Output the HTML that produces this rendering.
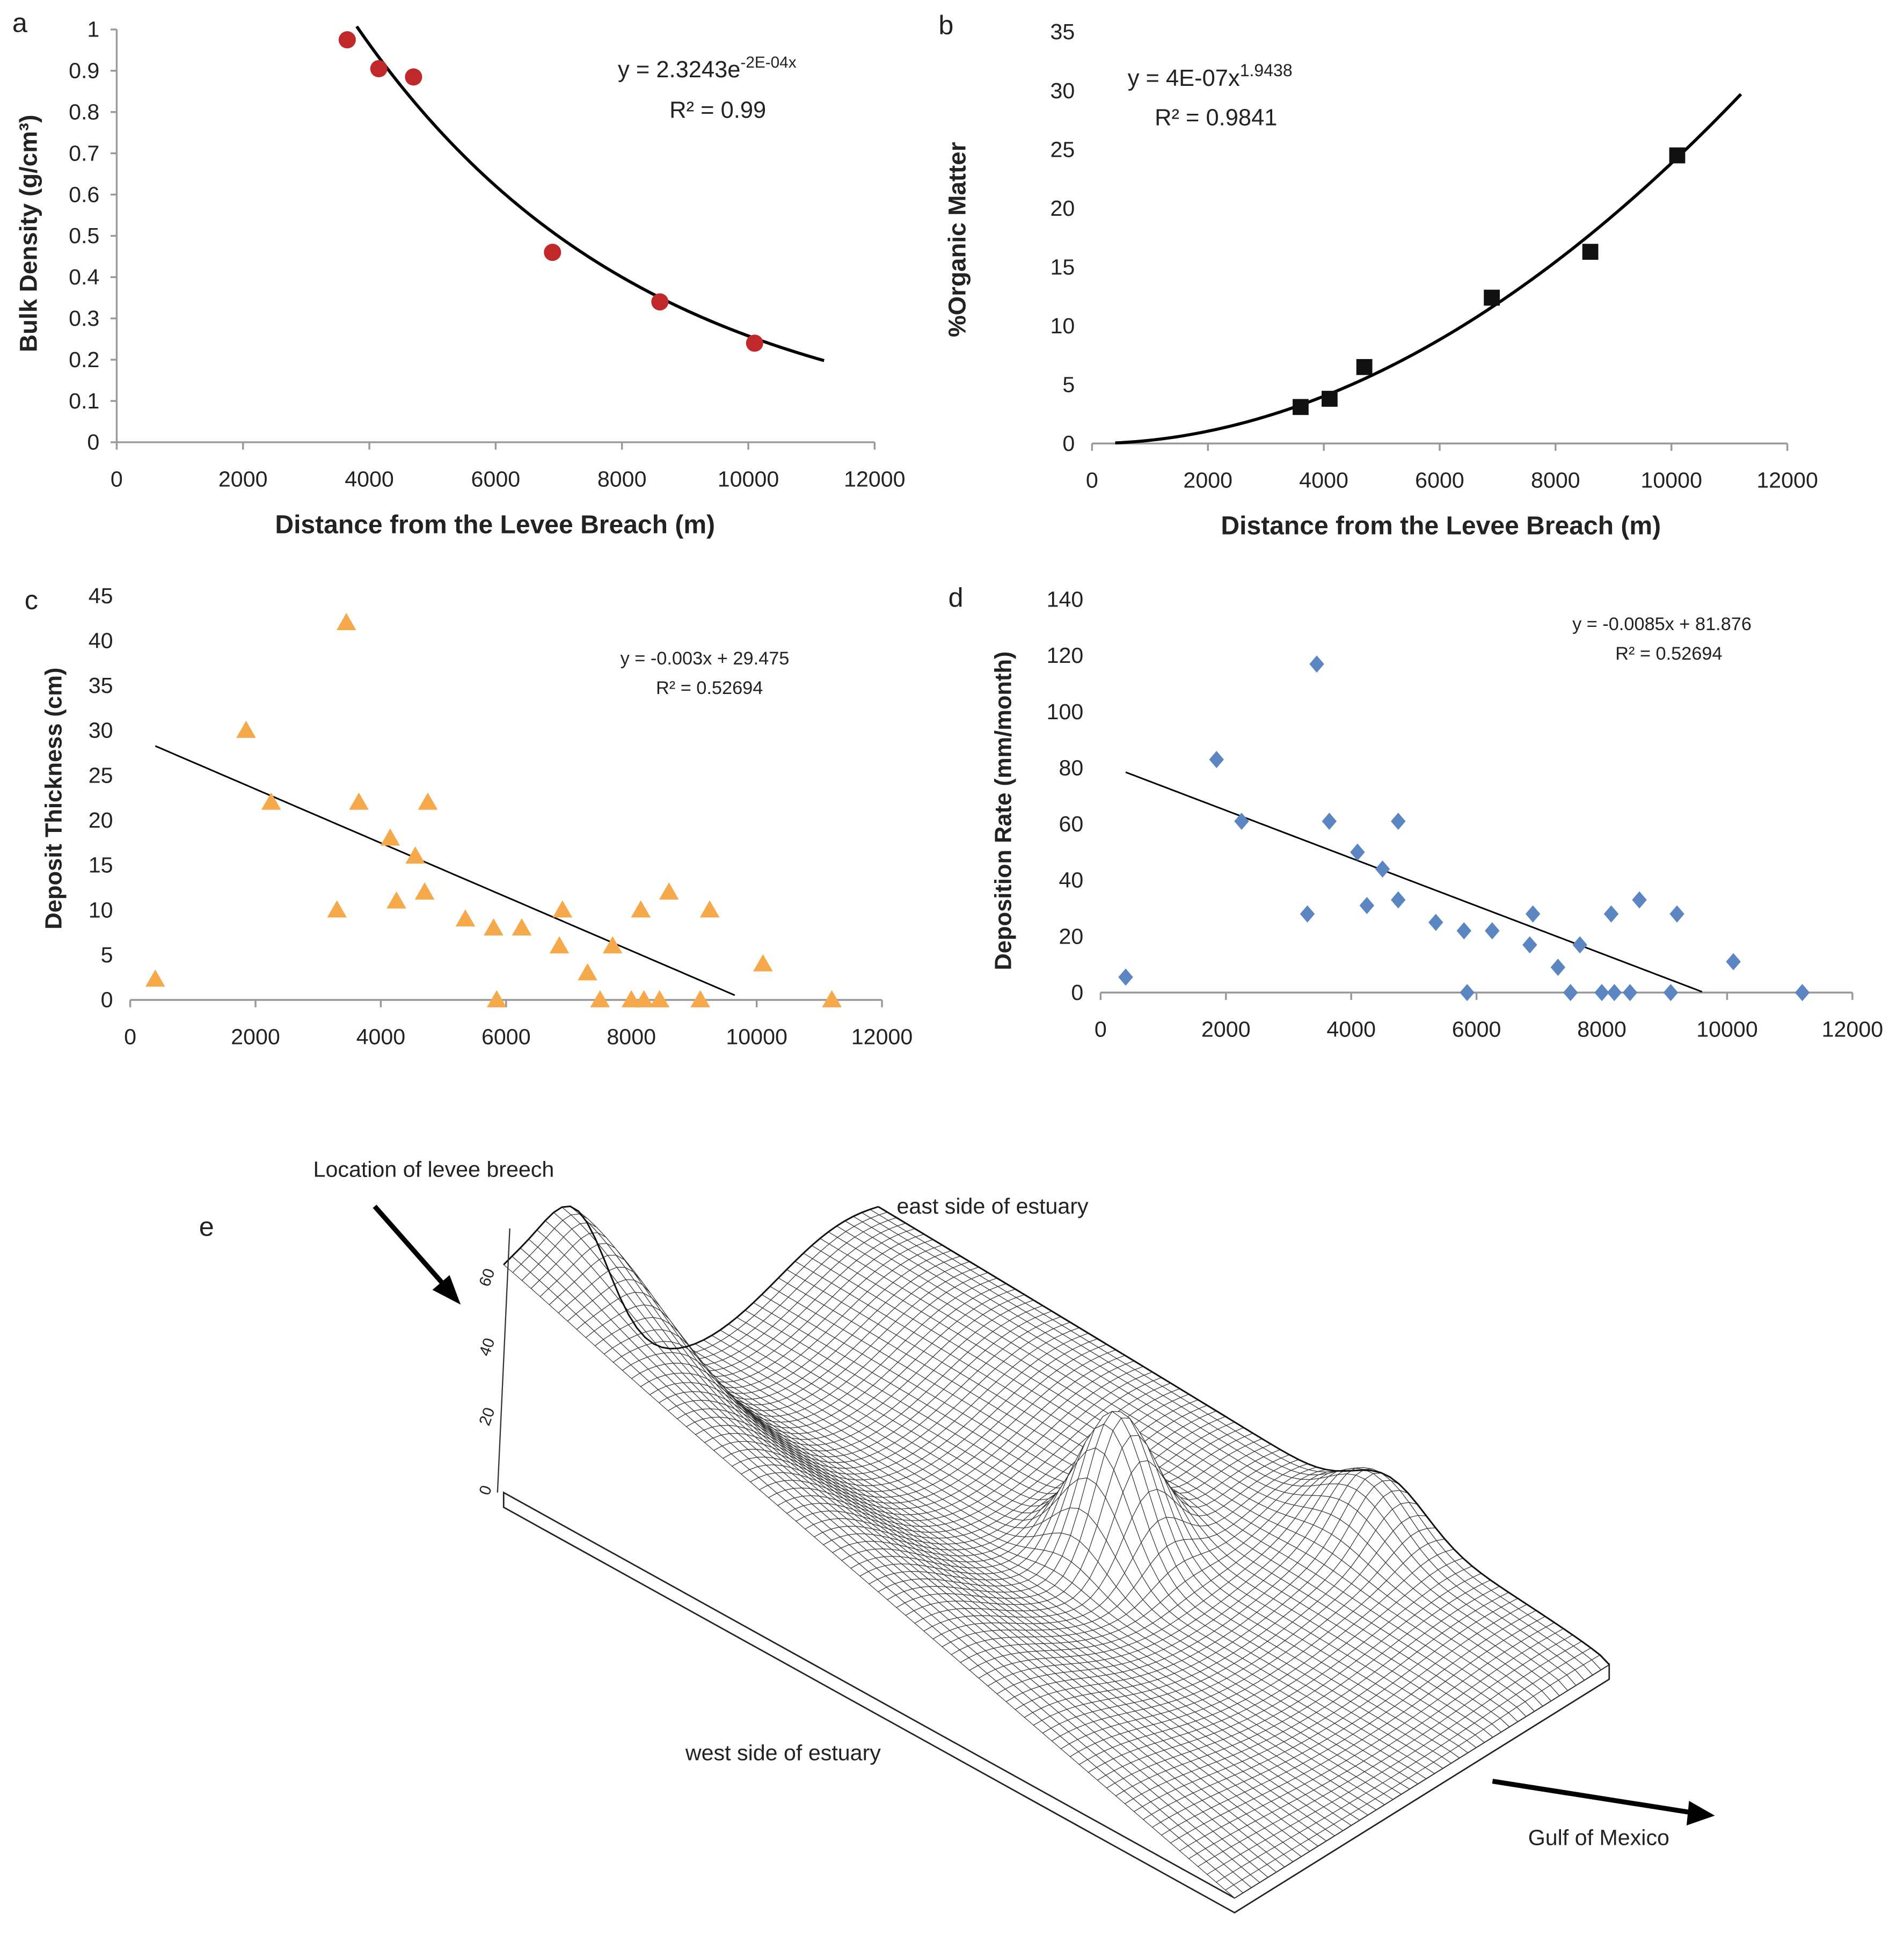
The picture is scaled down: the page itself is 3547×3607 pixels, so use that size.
<!DOCTYPE html>
<html><head><meta charset="utf-8"><style>
html,body{margin:0;padding:0;background:#fff}
svg{display:block}
text{font-family:"Liberation Sans",sans-serif;fill:#222}
</style></head><body>
<svg id="fig" width="3547" height="3607" viewBox="0 0 1550 1576" preserveAspectRatio="none" xmlns="http://www.w3.org/2000/svg"></svg>
<script>
// ---- data ----
const aDist = [3650, 4150, 4700, 6900, 8600, 10100];
const aDensity = [0.975, 0.905, 0.885, 0.46, 0.34, 0.24];
const bDist = [3600, 4100, 4700, 6900, 8600, 10100];
const bOrganic = [3.1, 3.8, 6.5, 12.4, 16.3, 24.5];
const cDist = [400,1850,2250,3300,3450,3650,4150,4250,4550,4700,4750,5350,5800,5850,6250,6850,6900,7300,7500,7700,8000,8150,8200,8450,8600,9100,9250,10100,11200];
const cThick = [2.3,30,22,10,42,22,18,11,16,12,22,9,8,0,8,6,10,3,0,6,0,10,0,0,12,0,10,4,0];
const dDist = [400,1850,2250,3300,3450,3650,4100,4250,4500,4750,4750,5350,5800,5850,6250,6850,6900,7300,7500,7650,8000,8150,8200,8450,8600,9100,9200,10100,11200];
const dRate = [5.5,83,61,28,117,61,50,31,44,33,61,25,22,0,22,17,28,9,0,17,0,28,0,0,33,0,28,11,0];
const xTicks = [0,2000,4000,6000,8000,10000,12000];
const aTicks = [0,0.1,0.2,0.3,0.4,0.5,0.6,0.7,0.8,0.9,1];
const bTicks = [0,5,10,15,20,25,30,35];
const cTicks = [0,5,10,15,20,25,30,35,40,45];
const dTicks = [0,20,40,60,80,100,120,140];

const NS="http://www.w3.org/2000/svg";
const svg=document.getElementById('fig');
function mk(tag,attrs,parent){const e=document.createElementNS(NS,tag);for(const k in attrs)e.setAttribute(k,attrs[k]);(parent||svg).appendChild(e);return e;}
function txt(s,attrs,parent){const e=mk('text',attrs,parent);e.textContent=s;return e;}

function panel(o){
  const g=mk('g',{});
  
  
  const X=v=>o.x0+(v-0)/(12000)*(o.x1-o.x0);
  const Y=v=>o.y0-(v/o.ymax)*(o.y0-o.y1);
  if(o.yaxis){const ya=mk('line',{x1:o.x0,y1:o.y0,x2:o.x0,y2:o.y1,stroke:'#999','stroke-width':1.5},g);
    
    o.yt.forEach(t=>mk('line',{x1:o.x0-5,x2:o.x0,y1:Y(t),y2:Y(t),stroke:'#999','stroke-width':1.5},g));}
  const xa=mk('line',{x1:o.x0,y1:o.y0,x2:o.x1,y2:o.y0,stroke:'#999','stroke-width':1.5},g);
  
  xTicks.forEach(t=>{mk('line',{x1:X(t),x2:X(t),y1:o.y0,y2:o.y0+6,stroke:'#999','stroke-width':1.5},g);
    const l=txt(String(t),{x:X(t),y:o.y0+36,'font-size':18,'text-anchor':'middle'},g);
    });
  o.yt.forEach(t=>{const l=txt(String(t),{x:o.x0-14,y:Y(t)+6,'font-size':18,'text-anchor':'end'},g);
    });
  let pts=[];for(let v=o.fx0;v<=o.fx1;v+=50){pts.push(X(v)+','+Y(o.fit(v)));}
  const fl=mk('polyline',{points:pts.join(' '),fill:'none',stroke:'#000','stroke-width':o.fw},g);
  
  o.xs.forEach((v,i)=>{const cx=X(v),cy=Y(o.ys[i]);let m;
    if(o.mark==='circle')m=mk('circle',{cx,cy,r:7,fill:'#c0282a'},g);
    else if(o.mark==='square')m=mk('rect',{x:cx-6.5,y:cy-6.5,width:13,height:13,fill:'#111'},g);
    else if(o.mark==='tri')m=mk('polygon',{points:`${cx},${cy-8} ${cx-8},${cy+6} ${cx+8},${cy+6}`,fill:'#f5a94a'},g);
    else m=mk('polygon',{points:`${cx},${cy-7} ${cx-6},${cy} ${cx},${cy+7} ${cx+6},${cy}`,fill:'#5b86c2'},g);
    });
  return g;
}
panel({name:'panel-a',x0:95,x1:712,y0:360,y1:24,ymax:1,yaxis:true,yt:aTicks,xs:aDist,ys:aDensity,mark:'circle',fit:x=>2.3243*Math.exp(-0.00022*x),fx0:3800,fx1:11200,fw:2.5});
panel({name:'panel-b',x0:889,x1:1455,y0:361,y1:26,ymax:35,yaxis:false,yt:bTicks,xs:bDist,ys:bOrganic,mark:'square',fit:x=>4e-7*Math.pow(x,1.9438),fx0:400,fx1:11200,fw:2.5});
panel({name:'panel-c',x0:106,x1:718,y0:814,y1:485,ymax:45,yaxis:false,yt:cTicks,xs:cDist,ys:cThick,mark:'tri',fit:x=>-0.003*x+29.475,fx0:400,fx1:9650,fw:1.3});
panel({name:'panel-d',x0:896,x1:1508,y0:808,y1:488,ymax:140,yaxis:false,yt:dTicks,xs:dDist,ys:dRate,mark:'dia',fit:x=>-0.0085*x+81.876,fx0:400,fx1:9630,fw:1.3});

function lab(s,a,name){const t=txt(s,a);return t;}
lab('a',{x:10,y:26,'font-size':22,fill:'#555'},'panel-a-letter');
lab('b',{x:764,y:28,'font-size':22,fill:'#555'},'panel-b-letter');
lab('c',{x:20,y:496,'font-size':22,fill:'#555'},'panel-c-letter');
lab('d',{x:772,y:494,'font-size':22,fill:'#555'},'panel-d-letter');
lab('e',{x:162,y:1006,'font-size':22,fill:'#555'},'panel-e-letter');
lab('Distance from the Levee Breach (m)',{x:403,y:434,'font-size':21,'font-weight':'bold','text-anchor':'middle'},'x-axis-title-a');
lab('Distance from the Levee Breach (m)',{x:1173,y:435,'font-size':21,'font-weight':'bold','text-anchor':'middle'},'x-axis-title-b');
lab('Bulk Density (g/cm³)',{x:0,y:0,'font-size':20,'font-weight':'bold','text-anchor':'middle',transform:'translate(30,190) rotate(-90)'},'y-axis-title-a');
lab('%Organic Matter',{x:0,y:0,'font-size':20,'font-weight':'bold','text-anchor':'middle',transform:'translate(786,195) rotate(-90)'},'y-axis-title-b');
lab('Deposit Thickness (cm)',{x:0,y:0,'font-size':19,'font-weight':'bold','text-anchor':'middle',transform:'translate(50,650) rotate(-90)'},'y-axis-title-c');
lab('Deposition Rate (mm/month)',{x:0,y:0,'font-size':19,'font-weight':'bold','text-anchor':'middle',transform:'translate(823,660) rotate(-90)'},'y-axis-title-d');
const e1=lab('y = 2.3243e',{x:503,y:63,'font-size':19},'equation-a');
const s1=mk('tspan',{dy:-8,'font-size':13},e1);s1.textContent='-2E-04x';
lab('R² = 0.99',{x:545,y:96,'font-size':19},'r2-a');
const e2=lab('y = 4E-07x',{x:918,y:70,'font-size':19},'equation-b');
const s2=mk('tspan',{dy:-8,'font-size':14},e2);s2.textContent='1.9438';
lab('R² = 0.9841',{x:940,y:102,'font-size':19},'r2-b');
lab('y = -0.003x + 29.475',{x:505,y:541,'font-size':15},'equation-c');
lab('R² = 0.52694',{x:534,y:565,'font-size':15},'r2-c');
lab('y = -0.0085x + 81.876',{x:1280,y:513,'font-size':15},'equation-d');
lab('R² = 0.52694',{x:1315,y:537,'font-size':15},'r2-d');

// ---- panel e: 3D mesh ----
const ge=mk('g',{});
const P0=[410,1215],U=[595,330],V=[305,-190],H=2.83;
const E=Math.exp;
function h(u,v){
  let z=60*(1-u)*E(-Math.pow(v/0.3,2));
  z+=25*E(-Math.pow((v-0.2)/0.12,2)-Math.pow(u/0.15,2));
  z+=13*E(-Math.pow((v-0.9)/0.25,2))*Math.sqrt(1-u);
  z+=40*E(-Math.pow((u-0.53)/0.06,2)-Math.pow((v-0.6)/0.1,2));
  z+=15*E(-Math.pow((u-0.7)/0.07,2)-Math.pow((v-0.95)/0.1,2));
  z+=4*(1-u);
  return Math.max(z,0);
}
function pr(u,v,z){return [P0[0]+U[0]*u+V[0]*v, P0[1]+U[1]*u+V[1]*v-H*z];}
const c0=pr(0,0,0),c1=pr(1,0,0),c2=pr(1,1,0);
mk('polygon',{points:`${c0} ${c1} ${c2} ${c2[0]},${c2[1]+12} ${c1[0]},${c1[1]+12} ${c0[0]},${c0[1]+12}`,fill:'#fff',stroke:'#222','stroke-width':1.2},ge);
const NU=80,NV=45;
const Z=[];for(let i=0;i<=NU;i++){Z.push([]);for(let j=0;j<=NV;j++)Z[i].push(h(i/NU,j/NV));}
for(let j=NV-1;j>=0;j--){for(let i=0;i<NU;i++){
  const a=pr(i/NU,j/NV,Z[i][j]),b=pr((i+1)/NU,j/NV,Z[i+1][j]),c=pr((i+1)/NU,(j+1)/NV,Z[i+1][j+1]),d=pr(i/NU,(j+1)/NV,Z[i][j+1]);
  mk('polygon',{points:`${a} ${b} ${c} ${d}`,fill:'#fff',stroke:'#333','stroke-width':0.5},ge);
}}
// outline edges
let ed=[];for(let i=0;i<=NU;i++)ed.push(pr(i/NU,1,Z[i][NV]).join(','));
mk('polyline',{points:ed.join(' '),fill:'none',stroke:'#111','stroke-width':1.3},ge);
ed=[];for(let j=0;j<=NV;j++)ed.push(pr(0,j/NV,Z[0][j]).join(','));
mk('polyline',{points:ed.join(' '),fill:'none',stroke:'#111','stroke-width':1.3},ge);
mk('line',{x1:405,y1:1215,x2:415,y2:1000,stroke:'#333','stroke-width':1},ge);
[0,20,40,60].forEach(t=>{const l=txt(String(t),{x:0,y:0,'font-size':13,transform:`translate(${398},${1218-t*2.83}) rotate(-70)`},ge);
  });
lab('Location of levee breech',{x:255,y:958,'font-size':18},'annotation-breach');
lab('east side of estuary',{x:730,y:988,'font-size':18},'annotation-east');
lab('west side of estuary',{x:558,y:1433,'font-size':18},'annotation-west');
lab('Gulf of Mexico',{x:1244,y:1502,'font-size':18},'annotation-gulf');
mk('line',{x1:305,y1:982,x2:365,y2:1050,stroke:'#000','stroke-width':4});
mk('polygon',{points:'375,1062 352,1050 366,1038',fill:'#000'});
mk('line',{x1:1215,y1:1450,x2:1380,y2:1476,stroke:'#000','stroke-width':4});
mk('polygon',{points:'1396,1478 1375,1466 1373,1486',fill:'#000'});
</script>
</body></html>
